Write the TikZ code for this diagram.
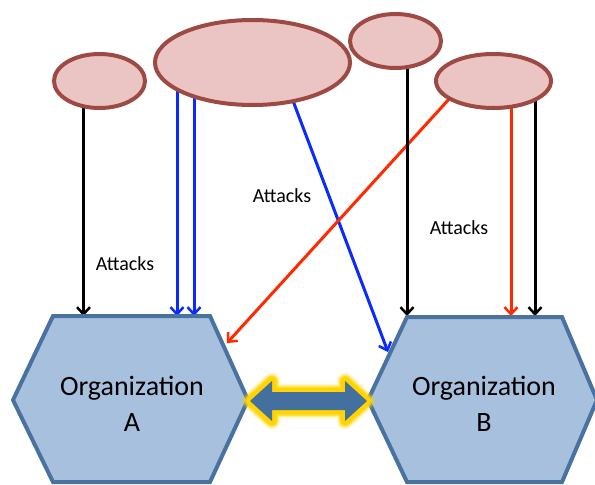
\documentclass[tikz,border=0pt]{standalone}
\usepackage{fontspec}
\setmainfont{Carlito}
\usetikzlibrary{arrows.meta,backgrounds,calc,shapes.geometric}

\definecolor{blobfill}{HTML}{EBC5C3}
\definecolor{blobedge}{HTML}{9E4A44}
\definecolor{orgfill}{HTML}{A7C0DE}
\definecolor{orgedge}{HTML}{4A72A0}
\definecolor{linkblue}{HTML}{0A2BFF}
\definecolor{linkred}{HTML}{FF2A00}
\definecolor{glowyellow}{HTML}{FFD400}
\definecolor{bridgeblue}{HTML}{44709F}

\begin{document}
\begin{tikzpicture}[x=1pt,y=-1pt,
  blob/.style={ellipse, draw=blobedge, fill=blobfill, line width=4pt, inner sep=0pt},
  org/.style={draw=orgedge, fill=orgfill, line width=4pt, line join=miter},
  orgtext/.style={align=center, font=\fontsize{28}{36}\selectfont},
  attack/.style={line width=3pt, -{Straight Barb[length=7pt,width=13pt,line width=2.5pt]}},
  lbl/.style={font=\fontsize{20}{24}\selectfont}]
\useasboundingbox (0,0) rectangle (595,485);

% threat sources
\node[blob, minimum width=91pt, minimum height=54pt] (e1) at (99.5,81) {};
\node[blob, minimum width=195pt, minimum height=85pt] (e2) at (252.5,62.5) {};
\node[blob, minimum width=91pt, minimum height=54pt] (e3) at (395.5,41) {};
\node[blob, minimum width=115pt, minimum height=54pt] (e4) at (493.5,81) {};

% organizations
\draw[org] (53,316) -- (210,316) -- (248,400) -- (210,482) -- (53,482) -- (13,400) -- cycle;
\draw[org] (407,317) -- (562,317) -- (597,400) -- (562,482) -- (407,482) -- (368,400) -- cycle;
\node[orgtext] (A) at (132,404) {Organization\\A};
\node[orgtext] (B) at (484,404) {Organization\\B};

% arrow feet on the organizations
\coordinate (a1) at (83.5,316);
\coordinate (a2) at (177,316);
\coordinate (a3) at (194,316);
\coordinate (a4) at (227,343);
\coordinate (b1) at (388,352);
\coordinate (b2) at (407,316);
\coordinate (b3) at (511,316);
\coordinate (b4) at (535,316);

\begin{scope}[on background layer]
  \draw[attack, black] (a1 |- e1.center) -- (a1);
  \draw[attack, linkblue] (a2 |- e2.center) -- (a2);
  \draw[attack, linkblue] (a3 |- e2.center) -- (a3);
  \draw[attack, linkblue] ([xshift=26pt]e2.center) -- (b1);
  \draw[attack, linkred] ([xshift=-28pt]e4.center) -- (a4);
  \draw[attack, black] (b2 |- e3.center) -- (b2);
  \draw[attack, linkred] (b3 |- e4.center) -- (b3);
  \draw[attack, black] (b4 |- e4.center) -- (b4);
\end{scope}

\node[lbl] (l1) at (125,264) {Attacks};
\node[lbl] (l2) at (282,196) {Attacks};
\node[lbl] (l3) at (459,228) {Attacks};

% two-way link between the organizations
\fill[bridgeblue,
  preaction={draw=glowyellow, draw opacity=.15, line width=17pt, line join=round},
  preaction={draw=glowyellow, draw opacity=.35, line width=14pt, line join=round},
  preaction={draw=glowyellow, draw opacity=.7, line width=11pt, line join=round},
  preaction={draw=glowyellow, line width=8pt, line join=round}]
  (250,401) -- (272,381) -- (272,392) -- (345,392) -- (345,381) -- (367,401)
  -- (345,421) -- (345,410) -- (272,410) -- (272,421) -- cycle;
\end{tikzpicture}
\end{document}
